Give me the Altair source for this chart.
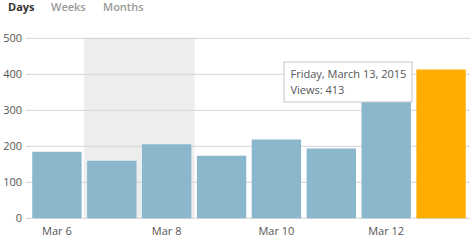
import altair as alt
import pandas as pd

# ---- data ----
days = ["Mar 6", "Mar 7", "Mar 8", "Mar 9", "Mar 10", "Mar 11", "Mar 12", "Mar 13"]
views = [185, 160, 206, 174, 219, 194, 330, 413]
weekend = ["Mar 7", "Mar 8"]
y_ticks = [0, 100, 200, 300, 400, 500]
x_labels = ["Mar 6", "Mar 8", "Mar 10", "Mar 12"]
highlight = "Mar 13"
tooltip_lines = ["Friday, March 13, 2015", "Views: 413"]
tabs = ["Days", "Weeks", "Months"]

df = pd.DataFrame({
    "day": days,
    "views": views,
    "kind": ["hl" if d == highlight else "normal" for d in days],
})
bg = pd.DataFrame({"day": weekend, "top": [500] * len(weekend)})
grid = pd.DataFrame({"v": y_ticks})
one = pd.DataFrame({"a": [0]})

W, H = 439, 180
PL, PT = 29.5, 38.3
FONT = "Open Sans"
YSCALE = alt.Scale(domain=[0, 500])
YAXIS = alt.Axis(values=y_ticks, title=None, ticks=False, domain=False,
                 grid=False, labelFont=FONT, labelFontSize=11,
                 labelColor="#555555", labelPadding=8)

background = alt.Chart(bg).mark_bar(color="#ededed", stroke="#ededed", strokeWidth=1).encode(
    x=alt.X("day:N", sort=days,
            scale=alt.Scale(domain=days, paddingInner=0, paddingOuter=0), axis=None),
    y=alt.Y("top:Q", scale=YSCALE, axis=YAXIS),
)

rules = alt.Chart(grid).mark_rule(color="#d4d4d4", strokeWidth=1).encode(
    y=alt.Y("v:Q", scale=YSCALE, axis=YAXIS),
    x=alt.value(-3.5), x2=alt.value(W + 1.5),
)

bars = alt.Chart(df).mark_bar().encode(
    x=alt.X("day:N", sort=days,
            scale=alt.Scale(domain=days, paddingInner=0.1, paddingOuter=0.05),
            axis=alt.Axis(values=x_labels, labelAngle=0, title=None, ticks=False,
                          domain=False, grid=False, labelFont=FONT, labelFontSize=11,
                          labelColor="#555555", labelPadding=7)),
    y=alt.Y("views:Q", scale=YSCALE, axis=YAXIS),
    color=alt.Color("kind:N",
                    scale=alt.Scale(domain=["normal", "hl"], range=["#8ab7cc", "#ffad00"]),
                    legend=None),
)

tip_box = alt.Chart(one).mark_rect(fill="white", stroke="#c4c4c4", strokeWidth=1).encode(
    x=alt.value(284 - PL), x2=alt.value(412 - PL),
    y=alt.value(62 - PT), y2=alt.value(102 - PT),
)

tip_layers = []
for i, line in enumerate(tooltip_lines):
    tip_layers.append(
        alt.Chart(one).mark_text(text=line, align="left", baseline="alphabetic",
                                 font=FONT, fontSize=11, color="#555555").encode(
            x=alt.value(290.5 - PL), y=alt.value([77.5, 93.5][i] - PT))
    )

tab_x = [8, 51, 103]
tab_layers = []
for i, t in enumerate(tabs):
    tab_layers.append(
        alt.Chart(one).mark_text(text=t, align="left", baseline="alphabetic",
                                 font=FONT, fontSize=11,
                                 fontWeight="bold" if i == 0 else 600,
                                 color="#333333" if i == 0 else "#999999").encode(
            x=alt.value(tab_x[i] - PL), y=alt.value(11 - PT))
    )

chart = alt.layer(background, rules, bars, tip_box, *tip_layers, *tab_layers).resolve_scale(
    x="independent"
).properties(
    width=W, height=H,
    padding={"left": PL, "top": PT, "right": 470 - W - PL, "bottom": 245 - H - PT},
    autosize="none",
    background="white",
).configure_view(stroke=None)

chart.save("out.html", embed_options={"renderer": "svg", "actions": False})
